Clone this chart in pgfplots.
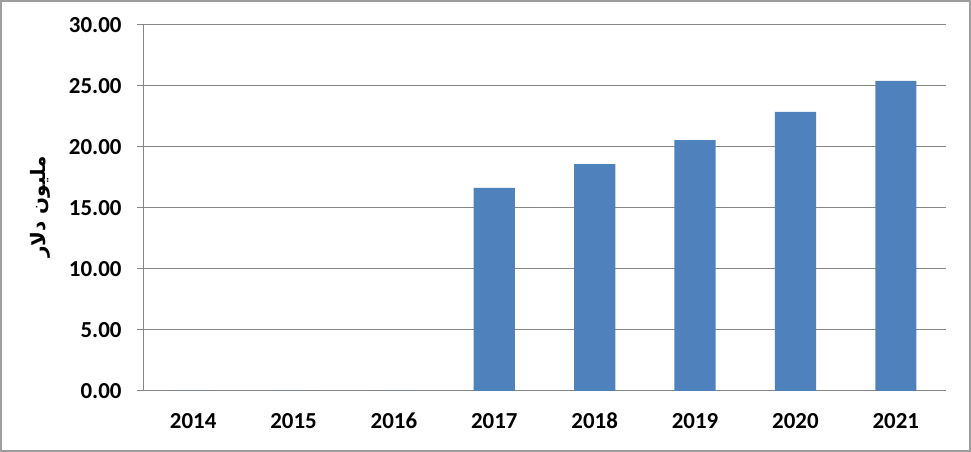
\documentclass[border=0pt]{standalone}
\usepackage{pgfplots}
\pgfplotsset{compat=1.18}
\usepackage{fontspec}
\setmainfont{Carlito}
\newfontfamily\arabicfont[Script=Arabic]{DejaVu Sans}
\TeXXeTstate=1
\definecolor{barblue}{HTML}{4F81BD}
\definecolor{gridgray}{HTML}{868686}
\begin{document}
\begin{tikzpicture}[x=1bp,y=1bp]
\draw[gridgray!80, line width=2bp] (1,1) rectangle (970,451);
\node[rotate=90, font=\arabicfont\bfseries\fontsize{20}{24}\selectfont] at (40,245) {\beginR مليون دلار\endR};
\begin{axis}[
  at={(143bp,61bp)}, anchor=south west,
  scale only axis, width=803bp, height=366bp,
  xmin=-0.5, xmax=7.5, ymin=0, ymax=30,
  axis x line*=bottom, axis y line*=left,
  axis line style={gridgray, line width=1bp},
  ytick={0,5,...,30},
  ymajorgrids, grid style={gridgray, line width=1bp},
  xtick={0,...,7},
  xticklabels={2014,2015,2016,2017,2018,2019,2020,2021},
  x tick label style={anchor=north, text height=15bp, text depth=0bp, yshift=-13bp},
  major x tick style={draw=none},
  extra x ticks={-0.5,0.5,...,7.5},
  extra x tick labels={},
  extra x tick style={major tick length=6bp, tick align=outside, major tick style={gridgray, line width=1bp, draw=gridgray}, grid=none},
  major y tick style={gridgray, line width=1bp},
  major tick length=6bp, tick align=outside,
  tick label style={font=\bfseries\fontsize{23}{26}\selectfont},
  y tick label style={xshift=-12bp},
  /pgf/number format/.cd, fixed, fixed zerofill, precision=2, assume math mode=true,
]
\addplot[ybar, bar width=0.41, fill=barblue, draw=none] coordinates {
  (0,0) (1,0) (2,0) (3,16.64) (4,18.60) (5,20.57) (6,22.87) (7,25.41)
};
\end{axis}
\end{tikzpicture}
\end{document}
